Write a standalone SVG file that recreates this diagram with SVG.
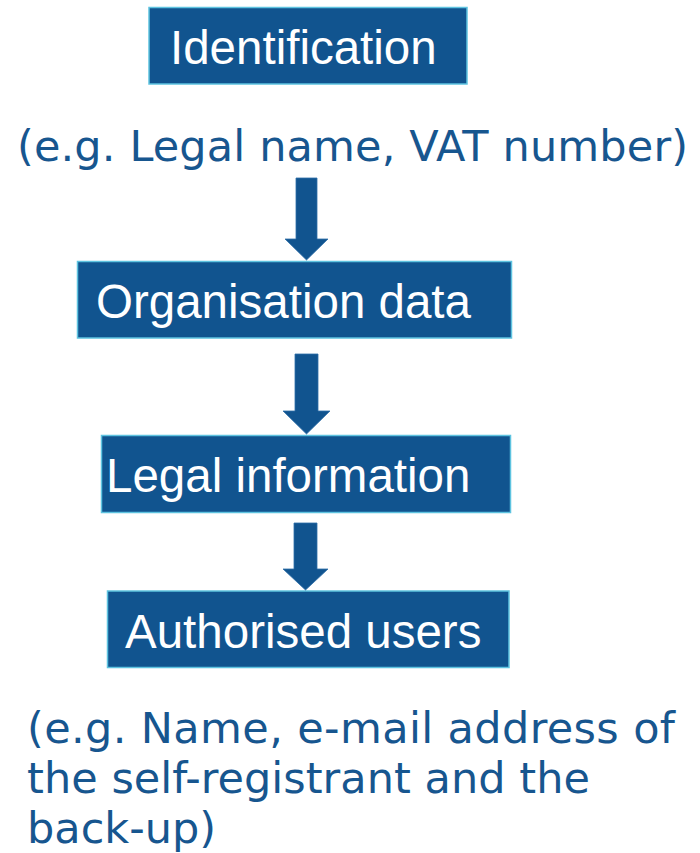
<svg xmlns="http://www.w3.org/2000/svg" width="700" height="853" viewBox="0 0 700 853">
  <style>
    .box { fill: #11548f; stroke: #5ec3e0; stroke-width: 1.5; }
    .label { font-family: "Liberation Sans", Arial, sans-serif; font-size: 47.5px; fill: #ffffff; }
    .note { font-family: "DejaVu Sans", Verdana, sans-serif; font-size: 43px; fill: #17568f; }
    .arrow { fill: #11548f; stroke: #2f6fa8; stroke-width: 0.8; }
  </style>
  <rect width="700" height="853" fill="#ffffff"/>

  <g id="identification">
    <rect class="box" x="149" y="7.5" width="318" height="76.5"/>
    <text class="label" x="170" y="64">Identification</text>
  </g>
  <text class="note" x="17" y="161" textLength="671" lengthAdjust="spacing">(e.g. Legal name, VAT number)</text>

  <g id="organisation-data">
    <rect class="box" x="77.5" y="261.5" width="434" height="76.5"/>
    <text class="label" x="96" y="318">Organisation data</text>
  </g>

  <g id="legal-information">
    <rect class="box" x="101.5" y="435.5" width="409" height="77"/>
    <text class="label" x="106" y="492">Legal information</text>
  </g>

  <g id="authorised-users">
    <rect class="box" x="107.5" y="591" width="401.5" height="76.5"/>
    <text class="label" x="125" y="648">Authorised users</text>
  </g>
  <g id="authorised-users-note" class="note">
    <text x="27" y="743" textLength="648" lengthAdjust="spacing">(e.g. Name, e-mail address of</text>
    <text x="27" y="793" textLength="563" lengthAdjust="spacing">the self-registrant and the</text>
    <text x="27" y="843">back-up)</text>
  </g>

  <g id="connectors">
    <polygon class="arrow" points="296,178 317,178 317,239 328,239 306.5,260 285,239 296,239"/>
    <polygon class="arrow" points="295,354 318,354 318,411 330,411 306.5,434 283,411 295,411"/>
    <polygon class="arrow" points="294,523 317,523 317,569 328,569 305.5,590 283,569 294,569"/>
  </g>
</svg>
